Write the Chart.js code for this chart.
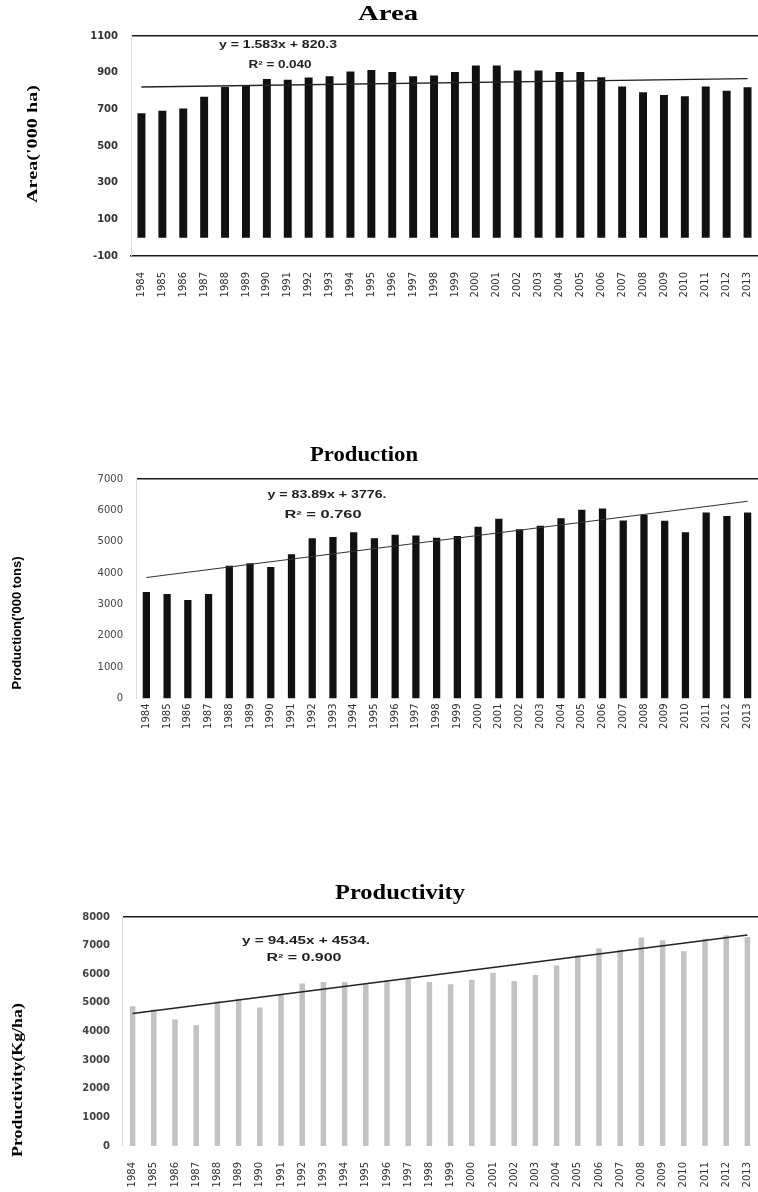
<!DOCTYPE html>
<html>
<head>
<meta charset="utf-8">
<title>Area, Production and Productivity 1984-2013</title>
<script src="https://cdn.jsdelivr.net/npm/chart.js@4.4.1/dist/chart.umd.min.js"></script>
<style>
  html, body { margin: 0; padding: 0; background: #fff; }
  body { width: 758px; height: 1192px; position: relative; overflow: hidden; }
  .panel { position: absolute; left: 0; width: 758px; }
  .panel canvas { display: block; }
</style>
</head>
<body>
<div class="panel" style="top:0"><canvas id="cArea" width="758" height="310"></canvas></div>
<div class="panel" style="top:440px"><canvas id="cProd" width="758" height="300"></canvas></div>
<div class="panel" style="top:870px"><canvas id="cYield" width="758" height="322"></canvas></div>

<script>
// ---- data ----
const years = ['1984','1985','1986','1987','1988','1989','1990','1991','1992','1993',
               '1994','1995','1996','1997','1998','1999','2000','2001','2002','2003',
               '2004','2005','2006','2007','2008','2009','2010','2011','2012','2013'];

// Area ('000 ha)
const areaValues = [678, 692, 705, 769, 822, 832, 866, 862, 873, 881,
                    906, 915, 903, 881, 884, 903, 939, 939, 912, 912,
                    903, 903, 875, 824, 793, 778, 771, 824, 802, 820];

// Production ('000 tons)
const productionValues = [3400, 3330, 3140, 3330, 4230, 4310, 4190, 4600, 5110, 5150,
                          5300, 5110, 5220, 5200, 5130, 5180, 5480, 5730, 5400, 5510,
                          5750, 6020, 6060, 5680, 5860, 5670, 5300, 5930, 5820, 5930];

// Productivity (kg/ha)
const productivityValues = [4880, 4770, 4420, 4220, 5060, 5140, 4840, 5290, 5680, 5730,
                            5730, 5650, 5790, 5850, 5730, 5650, 5810, 6050, 5760, 5970,
                            6310, 6660, 6900, 6860, 7280, 7190, 6800, 7240, 7360, 7300];

// linear trend lines (y = slope * x + intercept, x = 1..30)
const areaTrend = { slope: 1.583, intercept: 820.3, label: 'y = 1.583x + 820.3', r2: 'R\u00B2 = 0.040' };
const productionTrend = { slope: 83.89, intercept: 3776, label: 'y = 83.89x + 3776.', r2: 'R\u00B2 = 0.760' };
const productivityTrend = { slope: 94.45, intercept: 4534, label: 'y = 94.45x + 4534.', r2: 'R\u00B2 = 0.900' };

// y-axis ranges and tick steps
const areaTicks = { min: -100, max: 1100, step: 200 };
const productionTicks = { min: 0, max: 7000, step: 1000 };
const productivityTicks = { min: 0, max: 8000, step: 1000 };

// ---- free text drawn on each canvas (titles, axis titles, equations) ----
function textPlugin(items) {
  return {
    id: 'freeText',
    afterDraw(chart) {
      const ctx = chart.ctx;
      items.forEach(it => {
        ctx.save();
        ctx.font = it.font;
        ctx.fillStyle = it.color || '#111';
        ctx.textAlign = 'center';
        ctx.textBaseline = 'middle';
        ctx.translate(it.x, it.y);
        if (it.rotate) ctx.rotate(-Math.PI / 2);
        if (it.width) {
          const w = ctx.measureText(it.text).width;
          ctx.scale(it.width / w, 1);
        }
        ctx.fillText(it.text, 0, 0);
        ctx.restore();
      });
    }
  };
}

function trendPoints(trend) {
  const n = years.length;
  return [
    { x: years[0], y: trend.slope * 1 + trend.intercept },
    { x: years[n - 1], y: trend.slope * n + trend.intercept }
  ];
}

function buildChart(id, cfg) {
  const canvas = document.getElementById(id);
  const H = canvas.height;
  return new Chart(canvas, {
    data: {
      labels: years,
      datasets: [
        {
          type: 'line',
          data: trendPoints(cfg.trend),
          borderColor: cfg.trendColor,
          borderWidth: cfg.trendWidth,
          pointRadius: 0,
          fill: false,
          tension: 0
        },
        {
          type: 'bar',
          data: cfg.values,
          backgroundColor: cfg.barColor,
          borderWidth: 0,
          barPercentage: cfg.barPct,
          categoryPercentage: 1
        }
      ]
    },
    options: {
      responsive: false,
      animation: false,
      events: [],
      layout: { padding: { top: cfg.area.top, right: 0, left: 0, bottom: 0 } },
      plugins: { legend: { display: false }, tooltip: { enabled: false }, title: { display: false } },
      scales: {
        x: {
          type: 'category',
          offset: true,
          grid: { display: false, drawTicks: false },
          border: { display: cfg.xBorder, color: '#1a1a1a', width: 1.6 },
          ticks: {
            minRotation: 90, maxRotation: 90, autoSkip: false,
            padding: cfg.xPad,
            color: '#333',
            font: { family: 'DejaVu Sans', size: 10 }
          },
          afterFit(scale) {
            scale.height = H - cfg.area.bottom;
            scale.paddingLeft = 0;
            scale.paddingRight = 0;
          }
        },
        y: {
          min: cfg.ticks.min, max: cfg.ticks.max,
          grid: {
            drawTicks: false,
            color: ctx => (ctx.tick && ctx.tick.value === cfg.ticks.max) ? '#1a1a1a' : 'rgba(0,0,0,0)',
            lineWidth: ctx => (ctx.tick && ctx.tick.value === cfg.ticks.max) ? 1.6 : 0
          },
          border: { display: true, color: '#dcdcdc', width: 1 },
          ticks: {
            stepSize: cfg.ticks.step,
            padding: cfg.yPad,
            color: cfg.tickColor,
            font: cfg.tickFont,
            callback: v => String(v)
          },
          afterFit(scale) {
            scale.width = cfg.area.left;
            scale.paddingTop = 0;
            scale.paddingBottom = 0;
          }
        }
      }
    },
    plugins: [textPlugin(cfg.texts)]
  });
}

// Area
buildChart('cArea', {
  values: areaValues, trend: areaTrend, ticks: areaTicks,
  barColor: '#111', barPct: 0.38, trendColor: '#222', trendWidth: 1.3,
  area: { top: 36, bottom: 256, left: 131 }, xPad: 16, yPad: 13, xBorder: true,
  tickColor: '#333', tickFont: { family: 'DejaVu Sans', size: 10, weight: 'bold' },
  texts: [
    { text: 'Area', x: 388, y: 14, font: 'bold 22px "Liberation Serif"', width: 60, color: '#000' },
    { text: "Area('000 ha)", x: 33, y: 144, rotate: true, font: 'bold 14px "Liberation Serif"', width: 118, color: '#000' },
    { text: areaTrend.label, x: 278, y: 45, font: 'bold 10px "Liberation Sans"', width: 118, color: '#222' },
    { text: areaTrend.r2, x: 280, y: 65, font: 'bold 10px "Liberation Sans"', width: 63, color: '#222' }
  ]
});

// Production
buildChart('cProd', {
  values: productionValues, trend: productionTrend, ticks: productionTicks,
  barColor: '#111', barPct: 0.35, trendColor: '#333', trendWidth: 1.1,
  area: { top: 39, bottom: 258.5, left: 136 }, xPad: 5, yPad: 13, xBorder: false,
  tickColor: '#444', tickFont: { family: 'DejaVu Sans', size: 10 },
  texts: [
    { text: 'Production', x: 364, y: 15, font: 'bold 22px "Liberation Serif"', width: 108, color: '#000' },
    { text: "Production('000 tons)", x: 17, y: 183, rotate: true, font: 'bold 13px "Liberation Sans"', width: 133, color: '#000' },
    { text: productionTrend.label, x: 327, y: 55, font: 'bold 10px "Liberation Sans"', width: 119, color: '#222' },
    { text: productionTrend.r2, x: 323, y: 75, font: 'bold 10px "Liberation Sans"', width: 77, color: '#222' }
  ]
});

// Productivity
buildChart('cYield', {
  values: productivityValues, trend: productivityTrend, ticks: productivityTicks,
  barColor: '#c2c2c2', barPct: 0.26, trendColor: '#222', trendWidth: 1.5,
  area: { top: 47, bottom: 276, left: 122 }, xPad: 16, yPad: 12, xBorder: false,
  tickColor: '#444', tickFont: { family: 'DejaVu Sans', size: 10, weight: 'bold' },
  texts: [
    { text: 'Productivity', x: 400, y: 23, font: 'bold 22px "Liberation Serif"', width: 130, color: '#000' },
    { text: 'Productivity(Kg/ha)', x: 18, y: 210, rotate: true, font: 'bold 15px "Liberation Serif"', width: 154, color: '#000' },
    { text: productivityTrend.label, x: 306, y: 71, font: 'bold 10px "Liberation Sans"', width: 128, color: '#222' },
    { text: productivityTrend.r2, x: 304, y: 88, font: 'bold 10px "Liberation Sans"', width: 75, color: '#222' }
  ]
});
</script>
</body>
</html>
